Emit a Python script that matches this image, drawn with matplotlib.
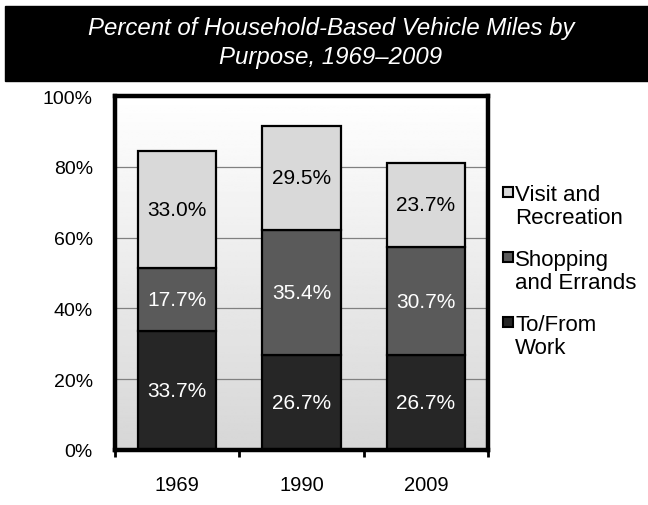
import numpy as np
import matplotlib
matplotlib.use("Agg")
import matplotlib.pyplot as plt
from matplotlib.patches import Rectangle

plt.rcParams['font.family'] = ['Liberation Sans', 'DejaVu Sans']

# Share of household vehicle miles by trip purpose (%)
years = ['1969', '1990', '2009']
work = [33.7, 26.7, 26.7]
shopping = [17.7, 35.4, 30.7]
visit = [33.0, 29.5, 23.7]

series = [
    ('To/From\nWork', work, '#262626', 'white'),
    ('Shopping\nand Errands', shopping, '#5a5a5a', 'white'),
    ('Visit and\nRecreation', visit, '#d9d9d9', 'black'),
]

W, H = 648, 506
fig = plt.figure(figsize=(W / 100, H / 100), dpi=100)

# Black title banner
fig.patches.append(Rectangle((5 / W, 1 - 82 / H), 1, 75 / H,
                             transform=fig.transFigure, color='black', zorder=0))
fig.text(331 / W, 1 - 43 / H, 'Percent of Household-Based Vehicle Miles by\nPurpose, 1969\u20132009',
         ha='center', va='center', color='white', fontsize=17.3, style='italic',
         linespacing=1.28)

ax = fig.add_axes([115 / W, 55 / H, 373 / W, 354 / H])

x = np.arange(len(years))

# Vertical gradient background
grad = np.linspace(0.84, 1.0, 256).reshape(-1, 1)
ax.imshow(grad, extent=[-0.5, 2.5, 0, 100], origin='lower', aspect='auto',
          cmap='gray', vmin=0, vmax=1, zorder=0)

for yv in [20, 40, 60, 80]:
    ax.axhline(yv, color='#808080', lw=0.9, zorder=1)

bottom = np.zeros(len(years))
for name, vals, color, tcolor in series:
    ax.bar(x, vals, width=0.63, bottom=bottom, color=color, edgecolor='black',
           linewidth=1.6, zorder=2)
    for xi, b, v in zip(x, bottom, vals):
        ax.text(xi, b + v / 2, f'{v:.1f}%', ha='center', va='center',
                color=tcolor, fontsize=15, zorder=3)
    bottom += np.array(vals)

ax.set_xlim(-0.5, 2.5)
ax.set_ylim(0, 100)

ax.set_xticks([-0.5, 0.5, 1.5, 2.5])
ax.set_xticklabels([])
ax.set_xticks(x, minor=True)
ax.set_xticklabels(years, minor=True, fontsize=14.5)
ax.tick_params(axis='x', which='major', direction='out', length=5, width=2)
ax.tick_params(axis='x', which='minor', length=0, pad=18)

ax.set_yticks(np.arange(0, 101, 20))
ax.set_yticklabels([f'{v}%' for v in range(0, 101, 20)], fontsize=14)
ax.tick_params(axis='y', length=0, pad=16)

for s in ax.spines.values():
    s.set_linewidth(3.2)
    s.set_color('black')

# Legend, drawn top to bottom
leg_top = [188, 253, 318]
for (name, vals, color, tcolor), top in zip(series[::-1], leg_top):
    fig.patches.append(Rectangle((503 / W, 1 - (top + 10) / H), 10 / W, 10 / H,
                                 transform=fig.transFigure, facecolor=color,
                                 edgecolor='black', linewidth=1.5))
    fig.text(515 / W, 1 - (top - 3) / H, name, ha='left', va='top', fontsize=16,
             linespacing=1.15)

fig.savefig('out.png', dpi=100)
